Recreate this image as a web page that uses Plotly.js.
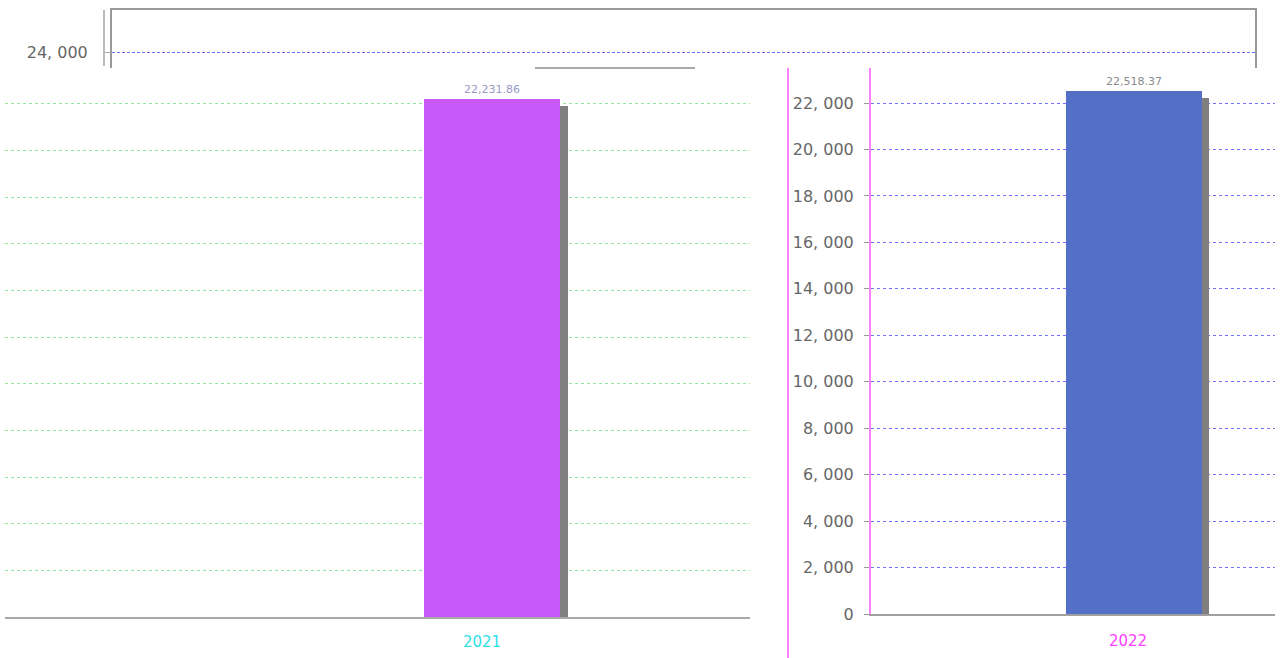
<!DOCTYPE html>
<html><head><meta charset="utf-8">
<script src="https://cdn.plot.ly/plotly-3.0.1.min.js"></script>
<style>html,body{margin:0;padding:0;background:#fff}#c{width:1281px;height:658px}</style>
</head><body><div id="c"></div>
<script>
// data
const leftCategories = ['2021'];
const leftValues = [22231.86];
const rightCategories = ['2022'];
const rightValues = [22518.37];
const rightTickValues = [0, 2000, 4000, 6000, 8000, 10000, 12000, 14000, 16000, 18000, 20000, 22000];
const backTickValues = [24000];

function fmt(v){ // "22, 000" style
  const s = Math.round(v).toString();
  if (s.length <= 3) return s;
  return s.slice(0, s.length-3) + ', ' + s.slice(s.length-3);
}
function fmtLabel(v){
  return v.toLocaleString('en-US',{minimumFractionDigits:2,maximumFractionDigits:2});
}

const W = 1281, H = 658;
const px = x => x / W;
const py = y => 1 - y / H;

// shadow offset in data units (approx 7 px vertically)
const shadowL = 300, shadowR = 300;

const traces = [
  {type:'bar', x:leftCategories, y:leftValues.map(v=>v-shadowL), xaxis:'x', yaxis:'y',
   marker:{color:'#808080'}, width:0.8, offset:-0.353, hoverinfo:'skip', showlegend:false},
  {type:'bar', x:leftCategories, y:leftValues, xaxis:'x', yaxis:'y',
   marker:{color:'#c858f8', line:{width:0}}, width:0.8, offset:-0.4,
   text:leftValues.map(fmtLabel), textposition:'outside', cliponaxis:false,
   textfont:{family:'DejaVu Sans', size:11, color:'#9a9ac8'}, showlegend:false},
  {type:'bar', x:rightCategories, y:rightValues.map(v=>v-shadowR), xaxis:'x2', yaxis:'y2',
   marker:{color:'#808080'}, width:0.8, offset:-0.36, hoverinfo:'skip', showlegend:false},
  {type:'bar', x:rightCategories, y:rightValues, xaxis:'x2', yaxis:'y2',
   marker:{color:'#5470c6', line:{width:0}}, width:0.8, offset:-0.4,
   text:rightValues.map(fmtLabel), textposition:'outside', cliponaxis:false,
   textfont:{family:'DejaVu Sans', size:11, color:'#8a8a8a'}, showlegend:false},
  {type:'scatter', mode:'lines', x:[0,1], y:[null,null], xaxis:'x3', yaxis:'y3', showlegend:false, hoverinfo:'skip'}
];

const layout = {
  width: W, height: H,
  margin:{l:0,r:0,t:0,b:0},
  paper_bgcolor:'#fff', plot_bgcolor:'rgba(0,0,0,0)',
  showlegend:false,
  bargap:0,
  font:{family:'DejaVu Sans', color:'#555'},
  xaxis:{domain:[px(5), px(750)], anchor:'y', type:'category', range:[-2.865,1.518],
    showline:true, linecolor:'#a8a8a8', linewidth:2, ticks:'', showgrid:false,
    ticklabelstandoff:10, ticklabelshift:-10,
    tickfont:{family:'DejaVu Sans', size:15, color:'#30e0e8'}},
  yaxis:{domain:[py(617), py(70)], anchor:'x', range:[0, 23456],
    showticklabels:false, ticks:'', showline:false, zeroline:false,
    tickmode:'array', tickvals:rightTickValues,
    showgrid:true, gridcolor:'#90e8a0', griddash:'dot', gridwidth:1},
  xaxis2:{domain:[px(871), px(1275)], anchor:'y2', type:'category', range:[-1.539,0.825],
    showline:true, linecolor:'#a0a0a0', linewidth:2, ticks:'', showgrid:false,
    ticklabelstandoff:12, ticklabelshift:-6,
    tickfont:{family:'DejaVu Sans', size:15, color:'#ff40ff'}},
  yaxis2:{domain:[py(614), py(68)], anchor:'x2', range:[0, 23507],
    tickmode:'array', tickvals:rightTickValues, ticktext:rightTickValues.map(fmt),
    ticks:'outside', ticklen:5, tickcolor:'#999', ticklabelstandoff:7,
    showline:true, linecolor:'#ff80ff', linewidth:2, zeroline:false,
    showgrid:true, gridcolor:'#7070ff', griddash:'dot', gridwidth:1,
    tickfont:{family:'DejaVu Sans', size:16, color:'#666'}},
  xaxis3:{domain:[px(112), px(1255)], anchor:'y3', side:'top', range:[0,1],
    showline:true, linecolor:'#999', linewidth:2, ticks:'', showticklabels:false, showgrid:false, zeroline:false},
  yaxis3:{domain:[py(68), py(10)], anchor:'x3', range:[23330, 25830],
    tickmode:'array', tickvals:backTickValues, ticktext:backTickValues.map(fmt),
    ticks:'outside', ticklen:5, tickcolor:'#aaa', ticklabelstandoff:14,
    showline:true, mirror:true, linecolor:'#999', linewidth:2, zeroline:false,
    showgrid:true, gridcolor:'#6f6fff', griddash:'3px,2px', gridwidth:1,
    tickfont:{family:'DejaVu Sans', size:16, color:'#666'}},
  shapes:[
    {type:'line', xref:'paper', yref:'paper', x0:px(104), x1:px(104), y0:py(10), y1:py(66), line:{color:'#bbb', width:2}},
    {type:'line', xref:'paper', yref:'paper', x0:px(535), x1:px(695), y0:py(68), y1:py(68), line:{color:'#aaa', width:2}},
    {type:'line', xref:'paper', yref:'paper', x0:px(788), x1:px(788), y0:py(68), y1:py(658), line:{color:'#ff80ff', width:2}}
  ]
};

Plotly.newPlot('c', traces, layout, {displayModeBar:false, staticPlot:true});
</script>
</body></html>
